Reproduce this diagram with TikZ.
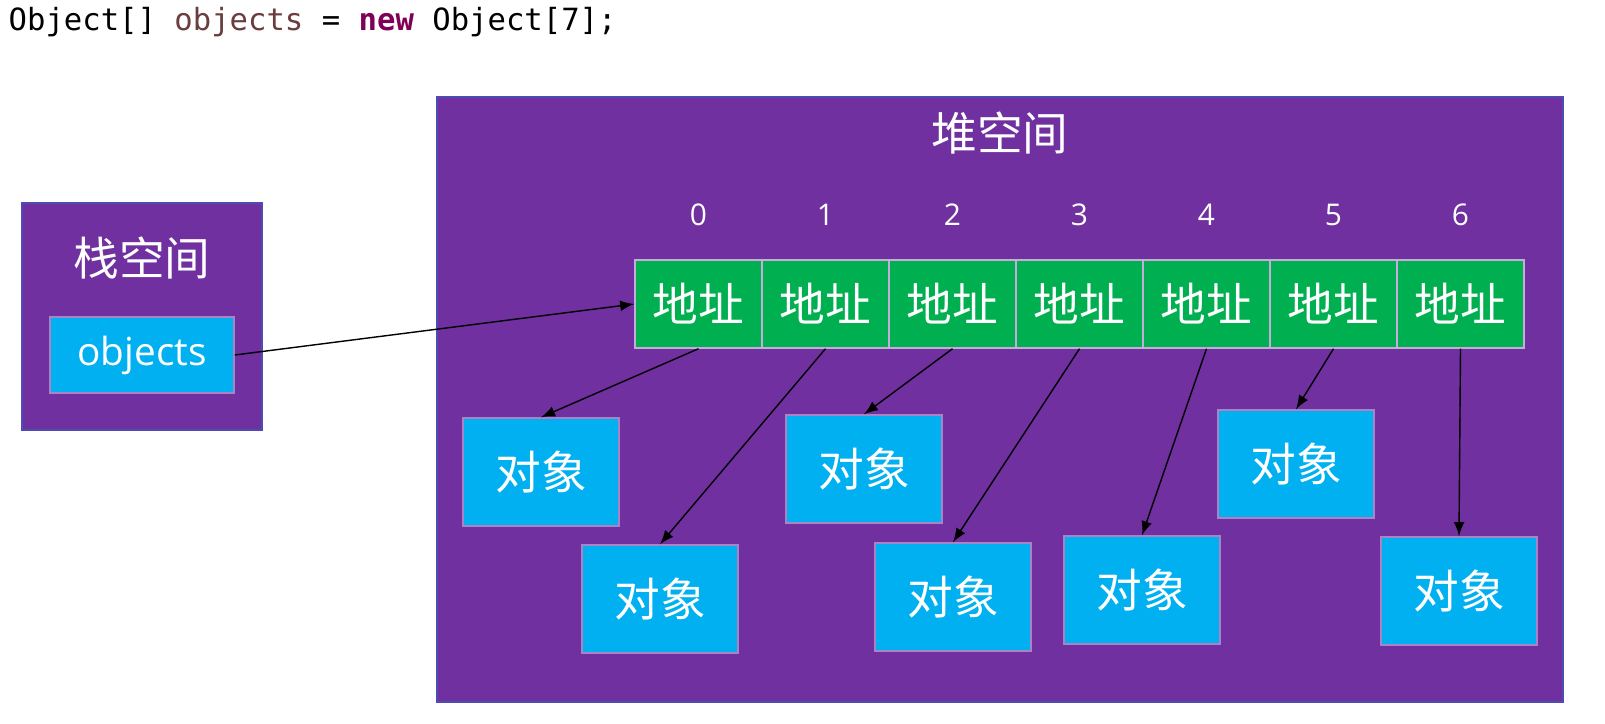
\documentclass[tikz,border=0pt]{standalone}
\usepackage{fontspec}
\setmainfont{Noto Sans CJK SC}
\newfontfamily\codefont{DejaVu Sans Mono}
\newfontfamily\numfont{Open Sans}
\usepackage{tikz}
\definecolor{heapviolet}{HTML}{7030A0}
\definecolor{cellgreen}{HTML}{00B050}
\definecolor{objblue}{HTML}{00B0F0}
\definecolor{kwpurple}{HTML}{7F0055}
\definecolor{varbrown}{HTML}{6A3E3E}
\tikzstyle{space box} = [draw=blue!40!gray,fill=heapviolet,line width=0.6pt]
\tikzstyle{cell node} = [draw=heapviolet!40,fill=cellgreen,text=white,minimum width=12.7mm,minimum height=8.8mm,inner sep=0,font=\fontsize{13}{15}\selectfont]
\tikzstyle{obj node}  = [fill=objblue,draw=heapviolet!60,text=white,minimum width=15.6mm,minimum height=10.8mm,inner sep=0,font=\fontsize{13}{15}\selectfont]
\tikzstyle{ref arrow} = [-latex,thin,black]

\begin{document}
\begin{tikzpicture}[x=0.01cm,y=-0.01cm]
    \useasboundingbox[fill=white] (0,0) rectangle (1605,724);

    % code line
    \node(code)[anchor=west,inner sep=0] at (8,22)
        {\codefont\fontsize{8.7}{10}\selectfont Object[] \textcolor{varbrown}{objects} = \textcolor{kwpurple}{\textbf{new}} Object[7];};

    % stack
    \draw[space box] (22,203) rectangle (262,430);
    \node(stack)[text=white,font=\fontsize{13}{15}\selectfont] at (142,258){栈空间};
    \node(ref)[fill=objblue,draw=heapviolet!60,text=white,minimum width=18.4mm,minimum height=7.6mm,inner sep=0,
               font=\numfont\fontsize{11}{13}\selectfont] at (142,355){objects};

    % heap
    \draw[space box] (437,97) rectangle (1563,702);
    \node(heap)[text=white,font=\fontsize{13}{15}\selectfont] at (1000,133){堆空间};

    % array cells with indices
    \foreach \i in {0,...,6}{
        \node(c\i)[cell node] at (698.5+127*\i,304){地址};
        \node[text=white,font=\numfont\fontsize{8.5}{10}\selectfont] at (698.5+127*\i,215){\i};
    }

    % objects
    \node(o0)[obj node] at (541,472){对象};
    \node(o1)[obj node] at (660,599){对象};
    \node(o2)[obj node] at (864,469){对象};
    \node(o3)[obj node] at (953,597){对象};
    \node(o4)[obj node] at (1142,590){对象};
    \node(o5)[obj node] at (1296,464){对象};
    \node(o6)[obj node] at (1459,591){对象};

    \draw[ref arrow] (ref.east)--(c0.west);
    \foreach \i in {0,...,6}{
        \draw[ref arrow] (c\i.south)--(o\i.north);
    }

\end{tikzpicture}
\end{document}
